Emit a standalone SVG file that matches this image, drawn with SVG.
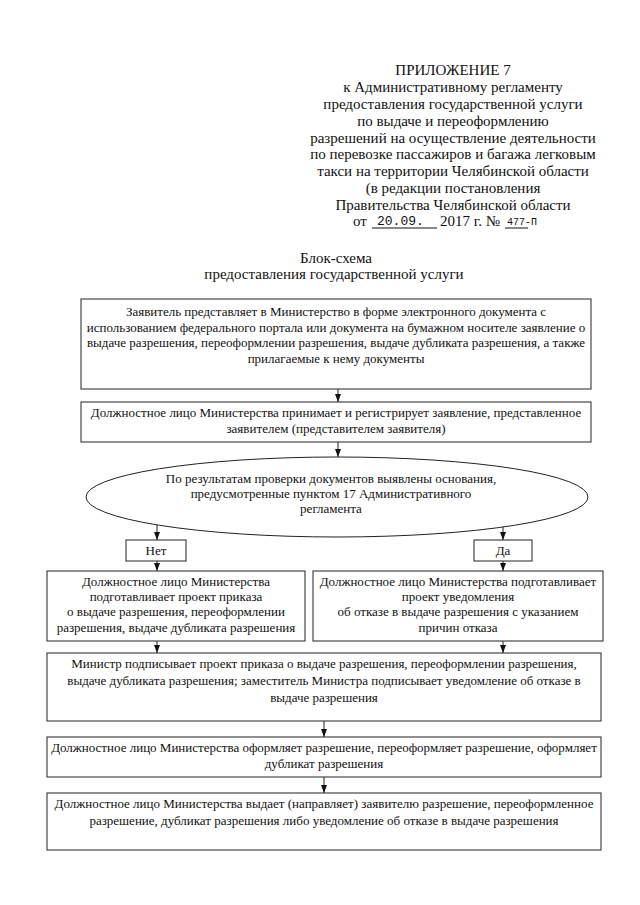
<svg xmlns="http://www.w3.org/2000/svg" width="640" height="905" viewBox="0 0 640 905">
<style>
text{font-family:"Liberation Serif","Times New Roman",serif;fill:#111;}
.h{font-size:15px;text-anchor:middle;}
.t{font-size:13px;text-anchor:middle;}
.m{font-family:"Liberation Mono","Courier New",monospace;font-size:13px;}
.b{fill:#fff;stroke:#222;stroke-width:1;}
.c{stroke:#222;stroke-width:1;fill:none;marker-end:url(#ah);}
</style>
<defs>
<marker id="ah" viewBox="0 0 8 8" refX="8" refY="4" markerWidth="8" markerHeight="8" markerUnits="userSpaceOnUse" orient="auto">
<path d="M0,1 L8,4 L0,7 Z" fill="#111"/>
</marker>
</defs>
<rect width="640" height="905" fill="#fff"/>
<g id="header">
<text class="h" x="453" y="75">ПРИЛОЖЕНИЕ 7</text>
<text class="h" x="453" y="92">к Административному регламенту</text>
<text class="h" x="453" y="109">предоставления государственной услуги</text>
<text class="h" x="453" y="125.5">по выдаче и переоформлению</text>
<text class="h" x="453" y="142.5">разрешений на осуществление деятельности</text>
<text class="h" x="453" y="159">по перевозке пассажиров и багажа легковым</text>
<text class="h" x="453" y="176">такси на территории Челябинской области</text>
<text class="h" x="453" y="193">(в редакции постановления</text>
<text class="h" x="453" y="209.5">Правительства Челябинской области</text>
<text style="font-size:15px" x="353" y="226">от</text>
<line x1="372" y1="228" x2="437" y2="228" stroke="#111" stroke-width="1"/>
<text class="m" x="377" y="225">20.09.</text>
<text style="font-size:15px" x="440" y="226">2017 г. №</text>
<line x1="505" y1="228" x2="528" y2="228" stroke="#111" stroke-width="1"/>
<text class="m" style="font-size:10px" x="507" y="225">477-П</text>
</g>
<g id="title">
<text class="h" x="336" y="263">Блок-схема</text>
<text class="h" x="334" y="279">предоставления государственной услуги</text>
</g>
<g id="connectors">
<line class="c" x1="338" y1="389" x2="338" y2="402"/>
<line class="c" x1="338" y1="442" x2="338" y2="457"/>
<line class="c" x1="157" y1="525" x2="157" y2="540"/>
<line class="c" x1="503" y1="527" x2="503" y2="540"/>
<line class="c" x1="157" y1="561" x2="157" y2="571"/>
<line class="c" x1="503" y1="561" x2="503" y2="571"/>
<line class="c" x1="157" y1="641" x2="157" y2="653"/>
<line class="c" x1="503" y1="641" x2="503" y2="653"/>
<line class="c" x1="324" y1="721" x2="324" y2="737"/>
<line class="c" x1="324" y1="777" x2="324" y2="793"/>
</g>
<g id="n1">
<rect class="b" x="81" y="299" width="510" height="90"/>
<text class="t" x="336" y="316">Заявитель представляет в Министерство в форме электронного документа с</text>
<text class="t" x="336" y="331.5">использованием федерального портала или документа на бумажном носителе заявление о</text>
<text class="t" x="336" y="347">выдаче разрешения, переоформлении разрешения, выдаче дубликата разрешения, а также</text>
<text class="t" x="336" y="362.5">прилагаемые к нему документы</text>
</g>
<g id="n2">
<rect class="b" x="81" y="402" width="510" height="40"/>
<text class="t" x="336" y="417">Должностное лицо Министерства принимает и регистрирует заявление, представленное</text>
<text class="t" x="336" y="433">заявителем (представителем заявителя)</text>
</g>
<g id="n3">
<ellipse class="b" cx="337" cy="497" rx="251" ry="40"/>
<text class="t" x="331" y="483">По результатам проверки документов выявлены основания,</text>
<text class="t" x="331" y="498">предусмотренные пунктом 17 Административного</text>
<text class="t" x="331" y="513">регламента</text>
</g>
<g id="no">
<rect class="b" x="126" y="540" width="60" height="21"/>
<text class="t" x="156" y="555">Нет</text>
</g>
<g id="yes">
<rect class="b" x="474" y="540" width="58" height="21"/>
<text class="t" x="503" y="555">Да</text>
</g>
<g id="n4">
<rect class="b" x="47" y="571" width="258" height="70"/>
<text class="t" x="176" y="586">Должностное лицо Министерства</text>
<text class="t" x="176" y="601">подготавливает проект приказа</text>
<text class="t" x="176" y="616">о выдаче разрешения, переоформлении</text>
<text class="t" x="176" y="632">разрешения, выдаче дубликата разрешения</text>
</g>
<g id="n5">
<rect class="b" x="313" y="571" width="290" height="70"/>
<text class="t" x="458" y="586">Должностное лицо Министерства подготавливает</text>
<text class="t" x="458" y="601">проект уведомления</text>
<text class="t" x="458" y="616">об отказе в выдаче разрешения с указанием</text>
<text class="t" x="458" y="632">причин отказа</text>
</g>
<g id="n6">
<rect class="b" x="47" y="653" width="554" height="68"/>
<text class="t" x="324" y="668">Министр подписывает проект приказа о выдаче разрешения, переоформлении разрешения,</text>
<text class="t" x="324" y="685">выдаче дубликата разрешения; заместитель Министра подписывает уведомление об отказе в</text>
<text class="t" x="324" y="702">выдаче разрешения</text>
</g>
<g id="n7">
<rect class="b" x="47" y="737" width="554" height="40"/>
<text class="t" x="324" y="752">Должностное лицо Министерства оформляет разрешение, переоформляет разрешение, оформляет</text>
<text class="t" x="324" y="768">дубликат разрешения</text>
</g>
<g id="n8">
<rect class="b" x="47" y="793" width="554" height="57"/>
<text class="t" x="324" y="808">Должностное лицо Министерства выдает (направляет) заявителю разрешение, переоформленное</text>
<text class="t" x="324" y="825">разрешение, дубликат разрешения либо уведомление об отказе в выдаче разрешения</text>
</g>
</svg>
